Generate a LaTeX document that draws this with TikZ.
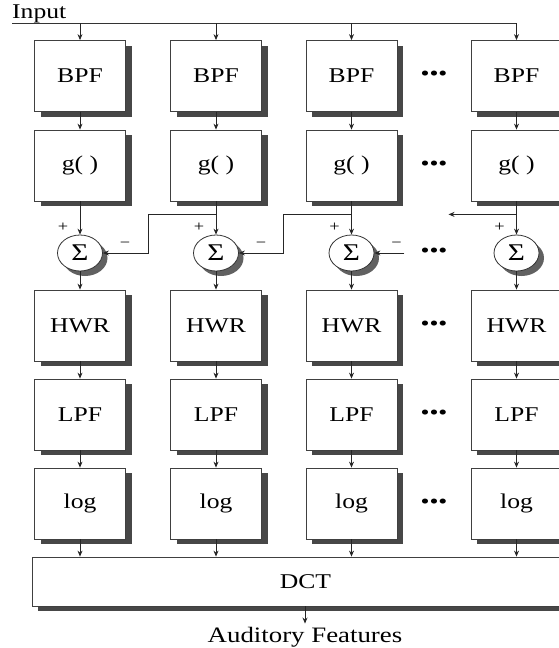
\documentclass[tikz,border=0pt]{standalone}
\usepackage{fontspec}
\setmainfont[FakeStretch=1.22]{Liberation Serif}
\usepackage{tikz}
\usetikzlibrary{shapes.geometric,shadows,arrows.meta,calc}

\begin{document}
\begin{tikzpicture}[x=1pt,y=-1pt,
    blk/.style={draw=black!75, line width=0.8pt, fill=white, minimum width=91pt, minimum height=71pt,
        font=\fontsize{21}{25}\selectfont,
        drop shadow={shadow xshift=6pt, shadow yshift=-5pt, opacity=1, fill=black!72}},
    sumnode/.style={ellipse, draw=black!80, line width=0.8pt, fill=white, minimum width=45pt, minimum height=36pt,
        inner sep=0pt, font=\fontsize{24}{26}\selectfont,
        drop shadow={shadow xshift=5pt, shadow yshift=-5pt, opacity=1, fill=black!62}},
    sgn/.style={font=\fontsize{15}{16}\selectfont, inner sep=0pt},
    lbl/.style={font=\fontsize{21}{25}\selectfont, inner sep=0pt},
    flow/.style={-{Stealth[length=6pt,width=5pt]}, line width=0.8pt, black!85}]

    % Fix the page to the size of the picture
    \useasboundingbox (0,0) rectangle (559,648);

    % Draw the filter bank, one column per channel
    \foreach \c/\x in {1/80,2/216,3/351.5,4/516.5} {
        \node[blk] (bpf\c) at (\x,76) {BPF};
        \node[blk] (g\c) at (\x,165.5) {g( )};
        \node[sumnode] (sum\c) at (\x,253) {Σ};
        \node[blk] (hwr\c) at (\x,325.5) {HWR};
        \node[blk] (lpf\c) at (\x,414.5) {LPF};
        \node[blk] (log\c) at (\x,503.5) {log};
    }

    % Draw the wide transform block below all channels
    \node[blk, minimum width=546pt, minimum height=49pt, anchor=west] (dct) at (32,581.5) {DCT};

    % Input bus along the top
    \node[lbl, anchor=base west] (input) at (12,18) {Input};
    \coordinate (busend) at (516.5,23);
    \draw[line width=0.8pt, black!80] (input.west |- busend) -- (busend);

    % Arrows down each column
    \foreach \c in {1,...,4} {
        \draw[flow] (bpf\c.north |- busend) -- (bpf\c.north);
        \draw[flow] (bpf\c) -- (g\c);
        \draw[flow] (g\c) -- (sum\c);
        \draw[flow] (sum\c) -- (hwr\c);
        \draw[flow] (hwr\c) -- (lpf\c);
        \draw[flow] (lpf\c) -- (log\c);
        \draw[flow] (log\c) -- (log\c |- dct.north);
        \node[sgn] (plus\c) at ([xshift=-17pt,yshift=26pt]sum\c.center) {+};
    }

    % Feedback from the next channel into each summer
    \foreach \c/\n in {1/2,2/3}
        \draw[flow] ([yshift=-13pt]g\n.south) -- ++(-68,0) |- (sum\c.east);
    \coordinate (fb3) at ([xshift=30pt]sum3.east);
    \draw[flow] (fb3) -- (sum3.east);
    \draw[flow] ([yshift=-13pt]g4.south) -- ++(-68,0);
    \foreach \c in {1,2,3}
        \node[sgn] (minus\c) at ([xshift=45pt,yshift=8pt]sum\c.center) {−};

    % Dots between the last two channels
    \foreach \r in {bpf,g,sum,hwr,lpf,log}
        \node[lbl] (dots-\r) at ($(\r3)!0.5!(\r4)$) {•••};

    % Output
    \node[lbl, font=\fontsize{22}{25}\selectfont, anchor=base, inner ysep=3pt] (feat) at (305,642) {Auditory Features};
    \draw[flow] (feat.north |- dct.south) -- (feat.north);

\end{tikzpicture}
\end{document}
